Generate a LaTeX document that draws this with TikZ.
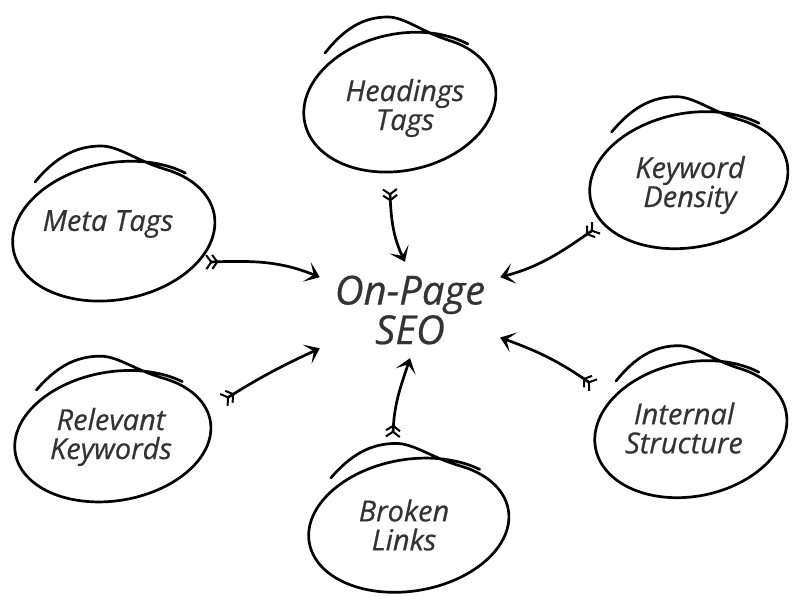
\documentclass[tikz,border=0pt]{standalone}
\usepackage{fontspec}
\setmainfont{Open Sans}
\newfontfamily\lblfont{Open Sans}[ItalicFeatures={FakeBold=0.5}]
\usetikzlibrary{arrows.meta,decorations.markings,shapes.geometric,calc}
\definecolor{txtgray}{HTML}{333333}
% hand-drawn bubble outline (one pen stroke), drawn round a named ellipse node
\newcommand\penbubble[3]{\draw[penstroke,shift={(#1.center)},xscale=#2,yscale=#3]
  (-80,50) .. controls (-60,74) and (-40,86) .. (-14,86)
  .. controls (4,86) and (21.6,71.2) .. (50.4,62.7)
  -- plot[domain=68:-304,samples=140,smooth]
     ({(0.98+0.05*(68-\x)/372)*(100*cos(\x)+15*sin(\x))},{(0.98+0.05*(68-\x)/372)*69*sin(\x)});}
\begin{document}
\begin{tikzpicture}[x=1pt,y=1pt,
  bubble/.style={ellipse,inner sep=0pt,draw=none},
  penstroke/.style={draw=black,line width=2.7pt,line cap=round,line join=round},
  lbl/.style={text=txtgray,font=\lblfont\itshape\fontsize{29}{29}\selectfont,align=center,inner sep=0pt},
  arr/.style={line width=2.7pt,
    -{Stealth[length=14pt,width=21pt,inset=7.5pt]},
    postaction=decorate,
    decoration={markings,
      mark=at position 2.5pt with {\arrow{Straight Barb[length=5pt,width=14pt,line width=2pt]}},
      mark=at position 8.5pt with {\arrow{Straight Barb[length=5pt,width=14pt,line width=2pt]}}}}
]
\fill[white] (0,0) rectangle (792,595);
\useasboundingbox (0,0) rectangle (792,595);

% ellipses (named), outlines drawn by a hand stroke
\node[bubble,minimum width=192pt,minimum height=140pt] (head) at (401,492) {};
\node[bubble,minimum width=204pt,minimum height=140pt] (meta) at (115,363) {};
\node[bubble,minimum width=200pt,minimum height=136pt] (kw) at (690,414) {};
\node[bubble,minimum width=198pt,minimum height=130pt] (rel) at (114,158) {};
\node[bubble,minimum width=202pt,minimum height=134pt] (brk) at (410,69) {};
\node[bubble,minimum width=194pt,minimum height=136pt] (int) at (692,165) {};

\penbubble{head}{0.95}{1.0}
\penbubble{meta}{1.0}{1.0}
\penbubble{kw}{0.98}{0.98}
\penbubble{rel}{0.97}{0.94}
\penbubble{brk}{0.99}{0.96}
\penbubble{int}{0.95}{0.98}

% labels
\node[lbl] (headT) at (405,487) {Headings\\Tags};
\node[lbl] (metaT) at (108,371) {Meta Tags};
\node[lbl] (kwT) at (690,410) {Keyword\\Density};
\node[lbl] (relT) at (111,158) {Relevant\\Keywords};
\node[lbl] (brkT) at (404,70) {Broken\\Links};
\node[lbl] (intT) at (684,167) {Internal\\Structure};

% centre
\node[text=txtgray,font=\lblfont\itshape\fontsize{40}{36}\selectfont,align=center,
      minimum width=180pt,minimum height=96pt,inner sep=0pt] (seo) at (410,285) {On-Page\\SEO};

% tails
\coordinate (tMeta) at (210,333);
\coordinate (tRel) at (227,197);
\coordinate (tKw) at (593,365);
\coordinate (tInt) at (590,212);
\coordinate (tHead) at (390,402);
\coordinate (tBrk) at (393,162);

\draw[arr] (tMeta) to[out=2,in=158] (seo.160);
\draw[arr] (tRel) to[out=32,in=205] (seo.203);
\draw[arr] (tKw) to[out=215,in=15] (seo.20);
\draw[arr] (tInt) to[out=145,in=-20] (seo.343);
\draw[arr] (tHead) to[out=-88,in=115] (seo.96);
\draw[arr] (tBrk) to[out=88,in=-108] (seo.270);
\end{tikzpicture}
\end{document}
